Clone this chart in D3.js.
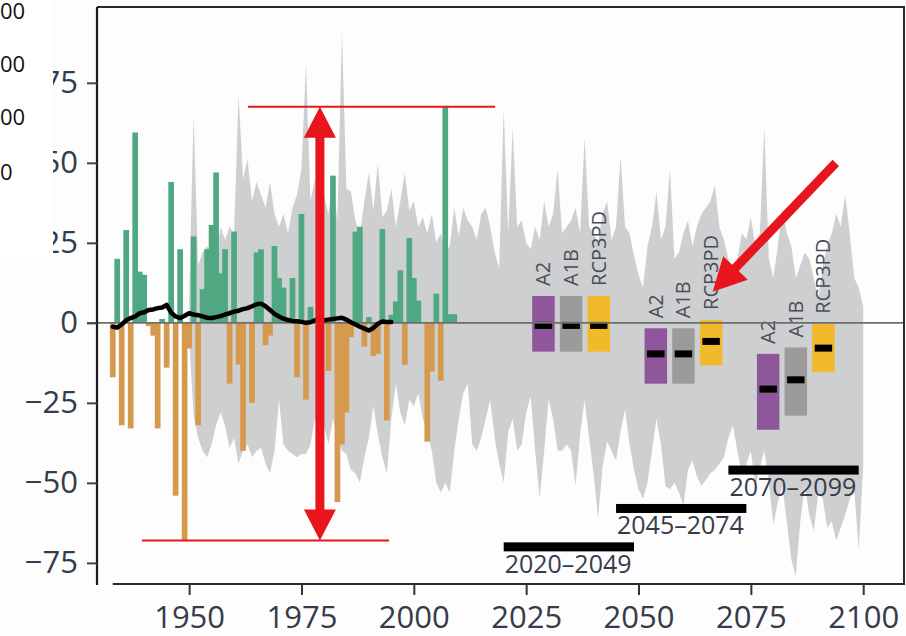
<!DOCTYPE html>
<html>
<head>
<meta charset="utf-8">
<script src="https://cdn.jsdelivr.net/npm/d3@7"></script>
<style>
  body { margin: 0; background: #fdfdfd; }
  svg { display: block; font-family: "Open Sans", sans-serif; }
</style>
</head>
<body>
<div id="chart"></div>
<script>
// observed annual anomalies (bars), 1933-2009
const obsYears = d3.range(1933, 2010);
const obsValues = [
  -17, 20, -32, 29, -33, 59.5, 16, 15, -1, -4,
  -33, 1.2, -14, 44, -54, 23, -68, -8, 27, -32,
  10.5, 23, 30.6, 47, 15.5, 23, -19, 28.5, -13, -40,
  0, -25, 22, 23, -7, -4, 24, 14, 11, 0,
  14, -17, 34, -24, 5, 0, 0, 0, -15, 46,
  -56, -38, -28, -4.5, 28.5, 30, -7.4, 1.8, -10.3, -9.7,
  29.3, -30.5, 2.5, 6.7, 16.4, -13.1, 26.5, 14, 6.9, 0,
  -37.1, -15.2, 9.1, -18.1, 67.5, 2.7, 2.7
];

// running mean of the observations
const meanYears = d3.range(1933, 1996);
const meanValues = [
  -1.2, -1.5, -0.5, 0.8, 1.5, 2.0, 3.0, 3.3, 4.0, 4.2,
  4.6, 4.8, 5.6, 3.2, 2.0, 1.5, 2.2, 3.0, 2.6, 2.4,
  2.0, 1.6, 1.5, 1.8, 2.1, 2.6, 3.0, 3.5, 3.8, 4.3,
  4.6, 5.2, 5.8, 6.0, 5.2, 4.0, 2.8, 2.0, 1.3, 0.9,
  0.6, 0.5, 0.3, 0.0, 0.2, 0.8, 1.0, 0.8, 1.0, 1.2,
  1.4, 1.6, 1.0, 0.2, -0.5, -1.2, -1.8, -2.4, -1.6, -0.3,
  0.4, 0.3, 0.3
];

// model ensemble range (grey band), 1950-2100
const bandYears = d3.range(1950, 2101);
const bandUpper = [
  8, 65, 18, 22, 24, 22, 20, 30, 26, 30,
  28, 71, 45, 51, 38, 44, 40, 36, 44, 34,
  30, 34, 28, 36, 40, 48, 81, 38, 45, 30,
  40, 34, 44, 32, 91, 42, 41, 32, 28, 38,
  47, 35, 50, 33, 35, 42, 30, 38, 47, 35,
  38, 30, 33, 28, 34, 25, 28, 22, 24, 36,
  27, 36, 32, 30, 26, 34, 36, 30, 22, 17,
  67, 28, 61, 30, 32, 25, 23, 30, 26, 38,
  30, 34, 48, 28, 30, 32, 36, 28, 58, 30,
  28, 25, 34, 38, 26, 30, 52, 30, 28, 21,
  15, 11, 24, 30, 41, 26, 30, 48, 20, 22,
  28, 32, 24, 30, 34, 36, 38, 43, 30, 26,
  20, 15, 20, 28, 26, 33, 24, 28, 61, 20,
  14, 24, 36, 28, 24, 14, 18, 22, 20, 14,
  7, 18, 24, 28, 34, 30, 40, 28, 14, 11,
  5
];
const bandLower = [
  -5, -29, -36, -40, -42, -38, -32, -28, -32, -39,
  -36, -44, -40, -38, -42, -40, -39, -44, -47, -40,
  -24, -38, -40, -41, -42, -41, -41, -38, -30, -36,
  -32, -38, -30, -36, -40, -41, -46, -47, -50, -42,
  -36, -26, -35, -42, -47, -30, -19, -28, -32, -24,
  -26, -22, -30, -34, -40, -50, -53, -50, -53, -40,
  -30, -22, -19, -38, -40, -36, -30, -24, -36, -44,
  -50, -34, -30, -40, -38, -28, -23, -40, -55, -40,
  -24, -30, -40, -40, -38, -40, -51, -35, -24, -36,
  -47, -61, -45, -37, -40, -43, -34, -27, -38, -46,
  -52, -55, -50, -40, -30, -38, -51, -52, -50, -53,
  -57, -46, -43, -48, -51, -49, -47, -46, -44, -42,
  -36, -32, -40, -47, -44, -40, -51, -45, -40, -50,
  -63, -56, -51, -62, -74, -79, -62, -51, -60, -65,
  -53, -55, -64, -62, -68, -64, -60, -55, -52, -71,
  -45
];

// scenario projections per 30-year period
const periodLabels = ["2020–2049", "2045–2074", "2070–2099"];
const periodStart = [2020, 2045, 2070];
const periodEnd = [2049, 2074, 2099];
const scenarioNames = ["A2", "A1B", "RCP3PD"];
const scenarioColors = ["#8f569b", "#9b9b9b", "#f0ba2a"];
// [period][scenario]
const scenarioLow = [[-9, -9, -9], [-19, -19, -13.3], [-33.4, -29, -15.4]];
const scenarioHigh = [[8.4, 8.4, 8.4], [-1.7, -1.7, 0.9], [-9.7, -7.7, -0.3]];
const scenarioMedian = [[-0.8, -0.8, -0.8], [-9.7, -9.7, -5.8], [-20.7, -17.8, -7.9]];

const xTicks = [1950, 1975, 2000, 2025, 2050, 2075, 2100];
const yTicks = [-75, -50, -25, 0, 25, 50, 75];

const W = 906, H = 636;
const margins = {top: 6, right: 1, bottom: 52, left: 97};

const svg = d3.select("#chart").append("svg")
  .attr("width", W)
  .attr("height", H);

const x = d3.scaleLinear()
  .domain([1929.5, 2109.3])
  .range([margins.left, W - margins.right]);

const y = d3.scaleLinear()
  .domain([99, -81.6])
  .range([margins.top, H - margins.bottom]);

const yearW = x(1) - x(0);

// grey ensemble band
const bandPts = bandYears.map((yr, i) => [x(yr), y(bandUpper[i])])
  .concat(bandYears.map((yr, i) => [x(yr), y(bandLower[i])]).reverse());
svg.append("path")
  .attr("d", d3.line()(bandPts) + "Z")
  .attr("fill", "#cdcfd1");

// observed bars (slightly wider than one year, as in the original)
const obs = obsYears.map((yr, i) => ({year: yr, value: obsValues[i]}));
const barW = yearW + 1.2;
svg.selectAll(".bar")
  .data(obs.filter(d => d.value !== 0))
  .enter().append("rect")
  .attr("class", "bar")
  .attr("x", d => x(d.year) - barW / 2)
  .attr("width", barW)
  .attr("y", d => y(Math.max(0, d.value)))
  .attr("height", d => Math.abs(y(d.value) - y(0)))
  .attr("fill", d => d.value > 0 ? "#4fa882" : "#d59a4e");

// scenario boxes
const boxW = 5, boxStep = 6.15;
periodLabels.forEach((p, pi) => {
  const centre = (periodStart[pi] + periodEnd[pi] + 1) / 2;
  scenarioNames.forEach((s, si) => {
    const cx = centre + (si - 1) * boxStep;
    const g = svg.append("g");
    g.append("rect")
      .attr("x", x(cx - boxW / 2))
      .attr("width", x(boxW) - x(0))
      .attr("y", y(scenarioHigh[pi][si]))
      .attr("height", y(scenarioLow[pi][si]) - y(scenarioHigh[pi][si]))
      .attr("fill", scenarioColors[si]);
    g.append("rect")
      .attr("x", x(cx - boxW / 2) + 2.5)
      .attr("width", x(boxW) - x(0) - 5)
      .attr("y", y(scenarioMedian[pi][si]) - 3.5)
      .attr("height", 7)
      .attr("fill", "#000");
    g.append("text")
      .attr("transform", "translate(" + x(cx) + "," + (y(scenarioHigh[pi][si]) - 10) + ") rotate(-90)")
      .attr("dy", "0.35em")
      .style("font-size", "20px")
      .style("fill", "#4a4d55")
      .text(s);
  });

  // period bar and label
  const level = -70 + pi * 12;
  svg.append("rect")
    .attr("x", x(periodStart[pi]))
    .attr("width", x(periodEnd[pi]) - x(periodStart[pi]))
    .attr("y", y(level) - 4.5)
    .attr("height", 9)
    .attr("fill", "#000");
  svg.append("text")
    .attr("x", x(periodStart[pi]) + 1)
    .attr("y", y(level) + 26)
    .style("font-size", "25px")
    .style("fill", "#363b4a")
    .text(p);
});

// zero line
svg.append("line")
  .attr("x1", margins.left - 10).attr("x2", W - margins.right)
  .attr("y1", y(0)).attr("y2", y(0))
  .style("stroke", "#6e6e6e")
  .style("stroke-width", 1.6);

// running mean
svg.append("path")
  .datum(meanYears.map((yr, i) => [yr, meanValues[i]]))
  .attr("d", d3.line().x(d => x(d[0])).y(d => y(d[1])))
  .attr("fill", "none")
  .style("stroke", "#000")
  .style("stroke-width", 4.5)
  .style("stroke-linejoin", "round")
  .style("stroke-linecap", "round");

// frame
const frame = svg.append("g").style("stroke", "#2a2a2a").style("stroke-width", 2);
frame.append("line").attr("x1", margins.left).attr("x2", W - margins.right)
  .attr("y1", margins.top + 1).attr("y2", margins.top + 1);
frame.append("line").attr("x1", W - margins.right - 1).attr("x2", W - margins.right - 1)
  .attr("y1", margins.top).attr("y2", H - margins.bottom);
frame.append("line").attr("x1", x(1933)).attr("x2", W - margins.right)
  .attr("y1", H - margins.bottom).attr("y2", H - margins.bottom);

// axes
const yAxis = d3.axisLeft(y).tickValues(yTicks).tickSize(10).tickSizeOuter(0).tickPadding(9);
svg.append("g")
  .attr("class", "y axis")
  .attr("transform", "translate(" + margins.left + ",0)")
  .call(yAxis)
  .call(g => g.select(".domain").style("stroke", "#1a1a1a").style("stroke-width", 2.2)
    .attr("d", "M0," + (margins.top + 1) + "V" + (H - margins.bottom + 1)))
  .call(g => g.selectAll(".tick line").style("stroke", "#444").style("stroke-width", 2))
  .call(g => g.selectAll("text").style("font-size", "31px").style("fill", "#363b4a")
    .style("font-family", "Open Sans, sans-serif"));

const xAxis = d3.axisBottom(x).tickValues(xTicks).tickFormat(d3.format("d")).tickSize(11).tickPadding(11);
svg.append("g")
  .attr("class", "x axis")
  .attr("transform", "translate(0," + (H - margins.bottom) + ")")
  .call(xAxis)
  .call(g => g.select(".domain").remove())
  .call(g => g.selectAll(".tick line").style("stroke", "#333").style("stroke-width", 2))
  .call(g => g.selectAll("text").style("font-size", "31px").style("fill", "#363b4a")
    .style("font-family", "Open Sans, sans-serif"));

// red annotations
const red = "#e8161c";
const obsMax = d3.max(obsValues), obsMin = d3.min(obsValues);
svg.append("line")
  .attr("x1", x(1963.1)).attr("x2", x(2018.1))
  .attr("y1", y(obsMax)).attr("y2", y(obsMax))
  .style("stroke", red).style("stroke-width", 2);
svg.append("line")
  .attr("x1", x(1939.5)).attr("x2", x(1994.5))
  .attr("y1", y(obsMin)).attr("y2", y(obsMin))
  .style("stroke", red).style("stroke-width", 2);

function arrowPoints(x1, y1, x2, y2, w, L, hw) {
  const len = Math.hypot(x2 - x1, y2 - y1);
  const ux = (x2 - x1) / len, uy = (y2 - y1) / len;
  const nx = -uy, ny = ux;
  const bx = x2 - ux * L, by = y2 - uy * L;
  return [
    [x1 + nx * w / 2, y1 + ny * w / 2],
    [bx + nx * w / 2, by + ny * w / 2],
    [bx + nx * hw, by + ny * hw],
    [x2, y2],
    [bx - nx * hw, by - ny * hw],
    [bx - nx * w / 2, by - ny * w / 2],
    [x1 - nx * w / 2, y1 - ny * w / 2]
  ];
}

// double headed arrow
const ax = x(1979.1), aTop = y(obsMax), aBot = y(obsMin);
const mid = (aTop + aBot) / 2;
const upPts = arrowPoints(ax, mid, ax, aTop, 9, 31, 16);
const downPts = arrowPoints(ax, mid, ax, aBot, 9, 31, 16);
svg.append("path").attr("d", d3.line()(upPts) + "Z").attr("fill", red);
svg.append("path").attr("d", d3.line()(downPts) + "Z").attr("fill", red);

// diagonal arrow pointing at RCP3PD
const diag = arrowPoints(x(2093.9), y(50), x(2066.5), y(9.7), 9, 33, 17);
svg.append("path").attr("d", d3.line()(diag) + "Z").attr("fill", red);

// left-hand strip cut from a neighbouring panel
svg.append("rect")
  .attr("x", 0).attr("y", 0)
  .attr("width", 53).attr("height", 262)
  .attr("fill", "#ffffff");
const stripLabels = ["00", "00", "00", "0"];
const stripY = [19, 72, 125, 180];
svg.selectAll(".strip")
  .data(stripLabels)
  .enter().append("text")
  .attr("class", "strip")
  .attr("x", 0)
  .attr("y", (d, i) => stripY[i])
  .style("font-size", "22px")
  .style("fill", "#111")
  .text(d => d);
</script>
</body>
</html>
